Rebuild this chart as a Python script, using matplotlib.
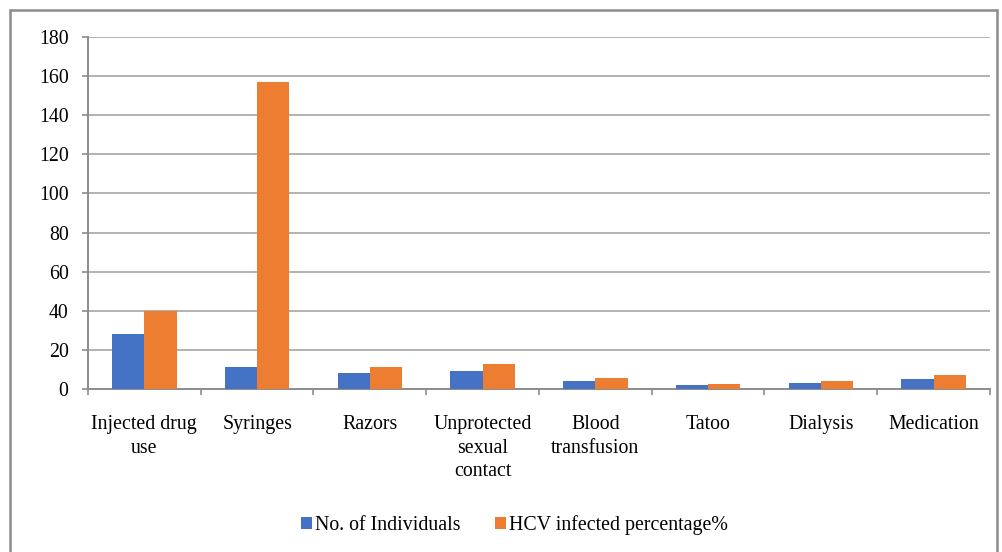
import numpy as np
import matplotlib.pyplot as plt
from matplotlib.patches import Rectangle

plt.rcParams['font.family'] = ['Liberation Serif', 'DejaVu Serif']

# risk factors and the two series
categories = ["Injected drug\nuse", "Syringes", "Razors", "Unprotected\nsexual\ncontact",
              "Blood\ntransfusion", "Tatoo", "Dialysis", "Medication"]
individuals = [28, 11, 8, 9, 4, 2, 3, 5]
hcv_percent = [40, 157, 11, 13, 5.5, 2.5, 4, 7]

blue = "#4472C4"
orange = "#ED7D31"
fs = 14.3

fig = plt.figure(figsize=(10.03, 5.52), dpi=100)
ax = fig.add_axes([88 / 1003, 1 - 389 / 552, 902 / 1003, 352 / 552])

x = np.arange(len(categories))
w = 0.285
ax.bar(x - w / 2, individuals, w, color=blue, label="No. of Individuals", zorder=3)
ax.bar(x + w / 2, hcv_percent, w, color=orange, label="HCV infected percentage%", zorder=3)

ax.set_xlim(-0.5, len(categories) - 0.5)
ax.set_ylim(0, 180)
ax.set_yticks(range(0, 181, 20))
ax.yaxis.grid(True, color="#a6a6a6", linewidth=1.2, zorder=0)

# category labels centred, tick marks on the category boundaries
ax.set_xticks(np.arange(-0.5, len(categories), 1))
ax.set_xticklabels([])
ax.tick_params(axis="x", length=4, color="#8c8c8c", width=1.2)
ax.tick_params(axis="y", length=4, color="#8c8c8c", width=1.2, labelsize=fs, pad=10)
for i, lab in enumerate(categories):
    ax.text(i, -13.5, lab, ha="center", va="top", fontsize=fs, linespacing=1.3)

for side in ["top", "right"]:
    ax.spines[side].set_visible(False)
for side in ["left", "bottom"]:
    ax.spines[side].set_color("#8c8c8c")
    ax.spines[side].set_linewidth(1.4)

fig.legend(loc="center", bbox_to_anchor=(0.513, 1 - 525 / 552), ncol=2, frameon=False,
           fontsize=fs, handlelength=0.55, handleheight=0.55, handletextpad=0.15,
           columnspacing=1.75)

# outer chart border
fig.patches.append(Rectangle((10 / 1003, -0.05), 987 / 1003, 1.05 - 10 / 552,
                             transform=fig.transFigure, fill=False,
                             edgecolor="#8c8c8c", linewidth=1.8))

fig.savefig("out.png", dpi=100)
